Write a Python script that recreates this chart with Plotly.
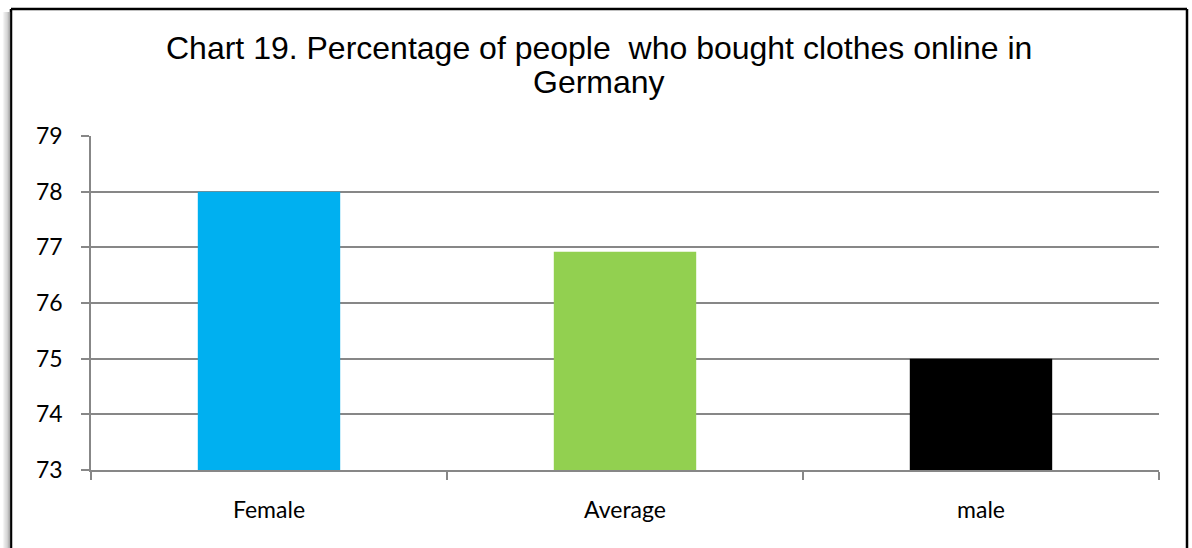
import plotly.graph_objects as go

# Chart data
categories = ["Female", "Average", "male"]
values = [78, 76.92, 75]
bar_colors = ["#00B0F0", "#92D050", "#000000"]
y_ticks = [73, 74, 75, 76, 77, 78, 79]
title_lines = ["Chart 19. Percentage of people  who bought clothes online in", "Germany"]

W, H = 1192, 548
L, R, T, B = 91, 33, 136, 78
PW, PH = W - L - R, H - T - B


def px_x(x):
    return (x - L) / PW


def px_y(y):
    return (H - B - y) / PH


axis_gray = "#878787"
tick_font = dict(family="Lato, Calibri, sans-serif", size=23, color="black")

fig = go.Figure(
    go.Bar(
        x=categories,
        y=values,
        marker=dict(color=bar_colors, line=dict(width=0)),
        hoverinfo="x+y",
    )
)

shapes = []
# Frame around the chart (left, top, right edges)
frame = dict(type="line", xref="paper", yref="paper", line=dict(color="black", width=2.5))
shapes.append({**frame, "x0": px_x(11), "x1": px_x(11), "y0": px_y(9), "y1": px_y(600)})
shapes.append({**frame, "x0": px_x(11), "x1": px_x(1187), "y0": px_y(9), "y1": px_y(9)})
shapes.append({**frame, "x0": px_x(1187), "x1": px_x(1187), "y0": px_y(9), "y1": px_y(600)})
# Soft shadow on the left side of the frame
for i, c in enumerate(["#f4f4f4", "#e8e8e8", "#dadada", "#cccccc", "#bdbdbd", "#aaaaaa"]):
    xp = 3.5 + i * 1.2
    shapes.append(dict(type="line", xref="paper", yref="paper",
                       x0=px_x(xp), x1=px_x(xp), y0=px_y(12), y1=px_y(600),
                       line=dict(color=c, width=1.3)))

# Two-line title, each line placed separately for tight line spacing
annotations = []
for line, yc in zip(title_lines, [48, 82]):
    annotations.append(dict(
        text=line, xref="paper", yref="paper",
        x=px_x(599), y=px_y(yc), xanchor="center", yanchor="middle",
        showarrow=False,
        font=dict(family="Liberation Sans, Arial, sans-serif", size=32, color="black"),
    ))

fig.update_layout(
    width=W,
    height=H,
    margin=dict(l=L, r=R, t=T, b=B, pad=0),
    paper_bgcolor="white",
    plot_bgcolor="white",
    bargap=0.6,
    showlegend=False,
    shapes=shapes,
    annotations=annotations,
    xaxis=dict(
        type="category",
        showgrid=False,
        showline=True,
        linecolor=axis_gray,
        linewidth=1.5,
        ticks="outside",
        tickson="boundaries",
        ticklen=8,
        tickwidth=1.5,
        tickcolor=axis_gray,
        ticklabelstandoff=19,
        tickfont=tick_font,
        zeroline=False,
        fixedrange=True,
    ),
    yaxis=dict(
        range=[73, 79],
        tickvals=y_ticks,
        showgrid=True,
        gridcolor=axis_gray,
        gridwidth=1.5,
        showline=True,
        linecolor=axis_gray,
        linewidth=1.5,
        ticks="outside",
        ticklen=8,
        tickwidth=1.5,
        tickcolor=axis_gray,
        ticklabelstandoff=14,
        tickfont=tick_font,
        zeroline=False,
        fixedrange=True,
    ),
)

fig.write_html("out.html")
